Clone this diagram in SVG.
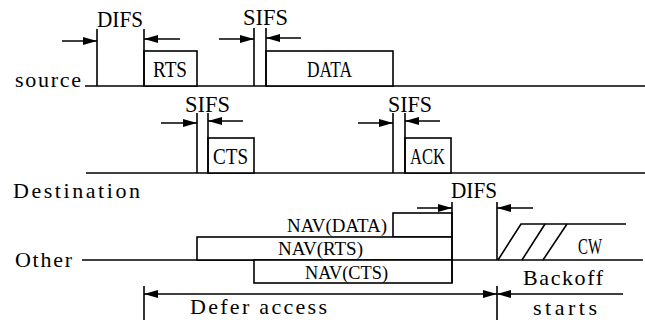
<svg xmlns="http://www.w3.org/2000/svg" width="645" height="320" viewBox="0 0 645 320">
<style>
.ln{stroke:#000;stroke-width:1.6;fill:none}
.bx{stroke:#000;stroke-width:1.6;fill:#fff}
.ar{stroke:#000;stroke-width:1.6;fill:none;marker-end:url(#ah)}
text{font-family:"Liberation Serif","Times New Roman",serif;font-size:23px;fill:#000}
.lc{font-size:22px}
.nv{font-size:19px}
</style>
<defs>
<marker id="ah" markerUnits="userSpaceOnUse" markerWidth="15" markerHeight="9" refX="14" refY="4" orient="auto">
<path d="M0,0 L14,4 L0,8 z" fill="#000"/>
</marker>
</defs>
<rect width="645" height="320" fill="#fff"/>

<g id="timelines">
<line class="ln" x1="85" y1="86" x2="645" y2="86"/>
<line class="ln" x1="86" y1="173" x2="645" y2="173"/>
<line class="ln" x1="82" y1="260" x2="643" y2="260"/>
</g>

<g id="labels">
<text class="lc" x="15" y="87" textLength="66" lengthAdjust="spacing">source</text>
<text class="lc" x="13" y="198" textLength="127" lengthAdjust="spacing">Destination</text>
<text class="lc" x="15" y="267" textLength="57" lengthAdjust="spacing">Other</text>
</g>

<g id="rts">
<rect class="bx" x="144" y="51" width="53" height="35"/>
<text x="153" y="77" textLength="34" lengthAdjust="spacingAndGlyphs">RTS</text>
</g>
<g id="data">
<rect class="bx" x="266" y="51" width="127" height="35"/>
<text x="307" y="77" textLength="45" lengthAdjust="spacingAndGlyphs">DATA</text>
</g>
<g id="cts">
<rect class="bx" x="208" y="138" width="46" height="35"/>
<text x="213" y="164" textLength="35" lengthAdjust="spacingAndGlyphs">CTS</text>
</g>
<g id="ack">
<rect class="bx" x="405" y="138" width="46" height="35"/>
<text x="410" y="164" textLength="35" lengthAdjust="spacingAndGlyphs">ACK</text>
</g>

<g id="nav-data">
<rect class="bx" x="393" y="213" width="59" height="24"/>
<text class="nv" x="287" y="232" textLength="100" lengthAdjust="spacingAndGlyphs">NAV(DATA)</text>
</g>
<g id="nav-rts">
<rect class="bx" x="197" y="237" width="255" height="23"/>
<text class="nv" x="278" y="255" textLength="85" lengthAdjust="spacingAndGlyphs">NAV(RTS)</text>
</g>
<g id="nav-cts">
<rect class="bx" x="254" y="260" width="198" height="23"/>
<text class="nv" x="305" y="279" textLength="83" lengthAdjust="spacingAndGlyphs">NAV(CTS)</text>
</g>

<g id="cw">
<polyline class="ln" points="498,260 521,224 626,224"/>
<line class="ln" x1="522" y1="260" x2="545" y2="224"/>
<line class="ln" x1="543" y1="260" x2="567" y2="224"/>
<text x="578" y="254" textLength="24" lengthAdjust="spacingAndGlyphs">CW</text>
</g>

<g id="difs-source">
<line class="ln" x1="97" y1="29" x2="97" y2="86"/>
<line class="ln" x1="144" y1="29" x2="144" y2="86"/>
<text x="97" y="27" textLength="46" lengthAdjust="spacingAndGlyphs">DIFS</text>
</g>
<g id="sifs-data">
<line class="ln" x1="254" y1="28" x2="254" y2="86"/>
<line class="ln" x1="266" y1="28" x2="266" y2="86"/>
<text x="243" y="25" textLength="45" lengthAdjust="spacingAndGlyphs">SIFS</text>
</g>
<g id="sifs-cts">
<line class="ln" x1="197" y1="113" x2="197" y2="173"/>
<line class="ln" x1="208" y1="113" x2="208" y2="173"/>
<text x="185" y="112" textLength="45" lengthAdjust="spacingAndGlyphs">SIFS</text>
</g>
<g id="sifs-ack">
<line class="ln" x1="393" y1="113" x2="393" y2="173"/>
<line class="ln" x1="405" y1="113" x2="405" y2="173"/>
<text x="388" y="112" textLength="44" lengthAdjust="spacingAndGlyphs">SIFS</text>
</g>
<g id="difs-other">
<line class="ln" x1="452" y1="202" x2="452" y2="283"/>
<line class="ln" x1="497" y1="202" x2="497" y2="260"/>
<text x="451" y="198" textLength="46" lengthAdjust="spacingAndGlyphs">DIFS</text>
</g>

<g id="bottom-labels">
<line class="ln" x1="144" y1="286" x2="144" y2="320"/>
<line class="ln" x1="497" y1="286" x2="497" y2="320"/>
<text class="lc" x="190" y="314" textLength="137" lengthAdjust="spacing">Defer access</text>
<text class="lc" x="523" y="285" textLength="80" lengthAdjust="spacing">Backoff</text>
<text class="lc" x="533" y="315" textLength="64" lengthAdjust="spacing">starts</text>
</g>

<g id="connectors">
<line class="ar" x1="62" y1="41" x2="97" y2="41"/>
<line class="ar" x1="180" y1="39" x2="144" y2="39"/>
<line class="ar" x1="219" y1="39" x2="254" y2="39"/>
<line class="ar" x1="301" y1="38" x2="266" y2="38"/>
<line class="ar" x1="161" y1="123" x2="197" y2="123"/>
<line class="ar" x1="243" y1="121" x2="208" y2="121"/>
<line class="ar" x1="358" y1="123" x2="393" y2="123"/>
<line class="ar" x1="440" y1="121" x2="405" y2="121"/>
<line class="ar" x1="417" y1="208" x2="452" y2="208"/>
<line class="ar" x1="533" y1="208" x2="497" y2="208"/>
<line class="ar" x1="320" y1="294" x2="144" y2="294"/>
<line class="ar" x1="320" y1="294" x2="497" y2="294"/>
<line class="ar" x1="623" y1="294" x2="497" y2="294"/>
</g>
</svg>
